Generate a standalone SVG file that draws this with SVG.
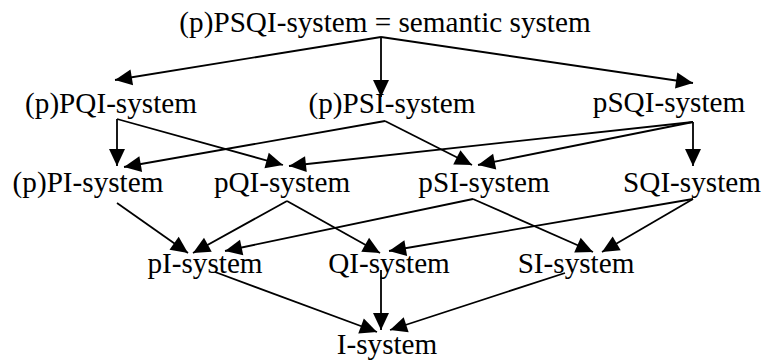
<svg xmlns="http://www.w3.org/2000/svg" width="763" height="360" viewBox="0 0 763 360">
<style>
text{font-family:"Liberation Serif","Times New Roman",serif;font-size:29.2px;fill:#000;text-anchor:middle}
.e line{stroke:#000;stroke-width:1.8;marker-end:url(#ah)}
</style>
<defs>
<marker id="ah" markerUnits="userSpaceOnUse" markerWidth="18" markerHeight="16" refX="17" refY="8" orient="auto" overflow="visible">
<path d="M0,0 L17,8 L0,16 z" fill="#000"/>
</marker>
</defs>
<rect width="763" height="360" fill="#fff"/>
<g id="n-root"><text x="385" y="32">(p)PSQI-system = semantic system</text></g>
<g id="n-pPQI"><text x="111" y="113">(p)PQI-system</text></g>
<g id="n-pPSI"><text x="392" y="113">(p)PSI-system</text></g>
<g id="n-pSQI"><text x="669" y="112">pSQI-system</text></g>
<g id="n-pPI"><text x="88" y="192">(p)PI-system</text></g>
<g id="n-pQI"><text x="282" y="192">pQI-system</text></g>
<g id="n-pSI"><text x="484" y="192">pSI-system</text></g>
<g id="n-SQI"><text x="692" y="192">SQI-system</text></g>
<g id="n-pI"><text x="205" y="273">pI-system</text></g>
<g id="n-QI"><text x="389" y="273">QI-system</text></g>
<g id="n-SI"><text x="576" y="273">SI-system</text></g>
<g id="n-I"><text x="387" y="354">I-system</text></g>
<g id="edges" class="e">
<line x1="381" y1="37" x2="115" y2="80"/>
<line x1="381" y1="37" x2="381" y2="97"/>
<line x1="381" y1="37" x2="693" y2="83"/>
<line x1="117" y1="119" x2="117" y2="166"/>
<line x1="117" y1="119" x2="283" y2="165"/>
<line x1="385" y1="121" x2="124" y2="167"/>
<line x1="385" y1="121" x2="472" y2="165"/>
<line x1="693" y1="122" x2="289" y2="166"/>
<line x1="693" y1="122" x2="478" y2="165"/>
<line x1="693" y1="122" x2="693" y2="166"/>
<line x1="117" y1="203" x2="188" y2="253"/>
<line x1="287" y1="201" x2="193" y2="253"/>
<line x1="287" y1="201" x2="380" y2="253"/>
<line x1="473" y1="199" x2="225" y2="251"/>
<line x1="473" y1="199" x2="593" y2="252"/>
<line x1="693" y1="199" x2="389" y2="251"/>
<line x1="693" y1="199" x2="602" y2="252"/>
<line x1="215" y1="272" x2="377" y2="332"/>
<line x1="381" y1="270" x2="381" y2="330"/>
<line x1="565" y1="273" x2="390" y2="330"/>
</g>
</svg>
